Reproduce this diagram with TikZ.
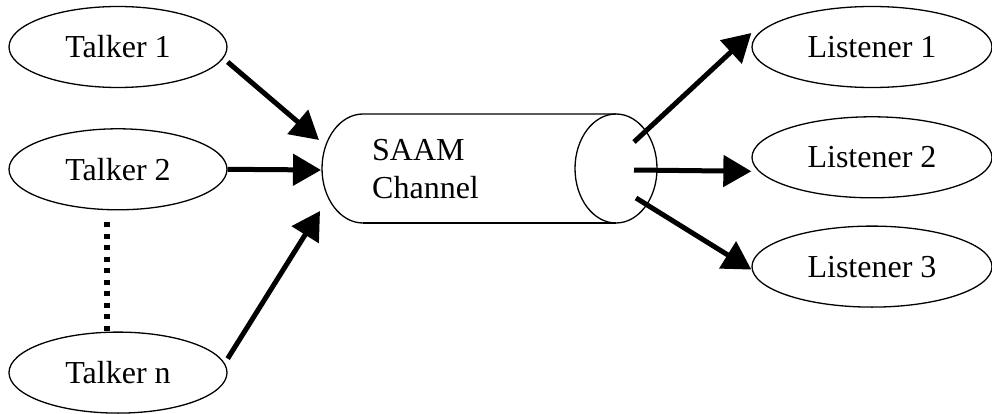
\documentclass[tikz,border=0pt]{standalone}
\usepackage{fontspec}
\setmainfont{Liberation Serif}
\usetikzlibrary{positioning,arrows.meta,shapes.geometric}

\begin{document}
\begin{tikzpicture}[
    x=1pt, y=1pt,
    font={\fontsize{32}{38}\selectfont},
    party/.style={ellipse,draw,line width=1.3pt,inner sep=0pt,minimum width=218pt,minimum height=81pt},
    hearer/.style={party,minimum width=240pt},
    flow/.style={line width=5pt,-{Triangle[length=28pt,width=31pt]}},
    more/.style={line width=5.5pt,dash pattern=on 5pt off 6.5pt},
]
    \useasboundingbox (0,0) rectangle (992,413);

    % Talkers
    \node[party] (talker1) at (118,366) {Talker 1};
    \node[party, below=40pt of talker1] (talker2) {Talker 2};
    \node[party, below=121pt of talker2] (talkern) {Talker n};

    % Listeners
    \node[hearer] (listener1) at (872,366) {Listener 1};
    \node[hearer, below=28pt of listener1] (listener2) {Listener 2};
    \node[hearer, below=27pt of listener2] (listener3) {Listener 3};

    % Channel
    \draw[line width=1.3pt] (363,190) arc[start angle=270, end angle=90, x radius=41, y radius=54.5] -- (616,299);
    \draw[line width=1.3pt] (363,190) -- (616,190);
    \draw[line width=1.3pt] (616,244.5) ellipse[x radius=41, y radius=54.5];
    \node[anchor=west, align=left, inner sep=0pt] (channel) at (372,244) {SAAM\\Channel};

    \coordinate (in1) at (319,273);
    \coordinate (in2) at (321,243);
    \coordinate (in3) at (320,202);
    \coordinate (out1) at (634,271);
    \coordinate (out2) at (634,243);
    \coordinate (out3) at (636,215);

    % Flows
    \draw[flow] ([yshift=-15pt]talker1.east) -- (in1);
    \draw[flow] (talker2.east) -- (in2);
    \draw[flow] ([yshift=14pt]talkern.east) -- (in3);
    \draw[more] ([xshift=-11pt,yshift=-12pt]talker2.south) -- ([xshift=-11pt]talkern.north);

    \draw[flow] (out1) -- ([yshift=14pt]listener1.west);
    \draw[flow] (out2) -- ([yshift=-14pt]listener2.west);
    \draw[flow] (out3) -- ([yshift=-3pt]listener3.west);

\end{tikzpicture}
\end{document}
